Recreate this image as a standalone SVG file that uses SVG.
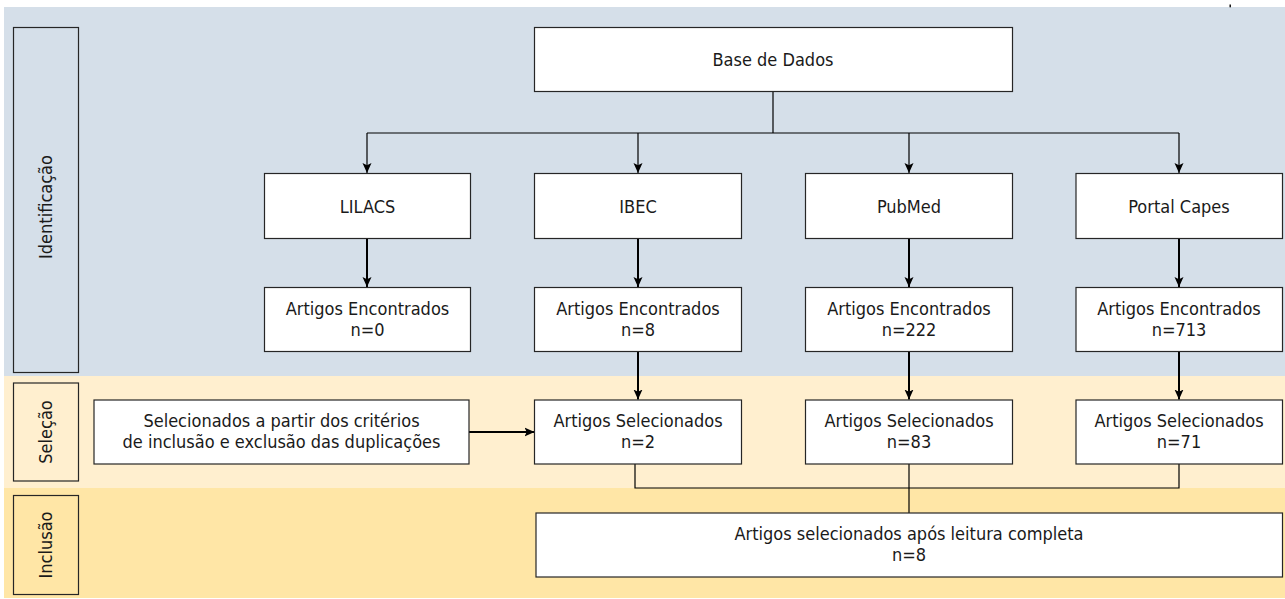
<svg xmlns="http://www.w3.org/2000/svg" width="1285" height="599" viewBox="0 0 1285 599">
<defs>
<marker id="arr" viewBox="0 0 10 10" refX="10" refY="5" markerWidth="10" markerHeight="10" markerUnits="userSpaceOnUse" orient="auto">
<path d="M0,0.5 L10,5 L0,9.5 L2.2,5 Z" fill="#000"/>
</marker>
<style>
.box{fill:#fff;stroke:#262626;stroke-width:1.2}
.lab{fill:none;stroke:#262626;stroke-width:1.2}
.t{font-family:"DejaVu Sans Condensed","DejaVu Sans",sans-serif;font-stretch:condensed;font-size:18px;fill:#1a1a1a;text-anchor:middle}
.thin{fill:none;stroke:#000;stroke-width:1.2}
.thick{fill:none;stroke:#000;stroke-width:2}
</style>
</defs>
<rect x="0" y="0" width="1285" height="599" fill="#fff"/>
<g id="bands">
<rect x="4" y="7" width="1281" height="369" fill="#D5DFE9"/>
<rect x="4" y="376" width="1281" height="112" fill="#FFEFCF"/>
<rect x="4" y="488" width="1281" height="110" fill="#FFE6A6"/>
<rect x="1229.5" y="4.5" width="1.4" height="2.8" fill="#000"/>
</g>
<g id="lane-identificacao">
<rect class="lab" x="13.5" y="27.5" width="65" height="345"/>
<text class="t" transform="translate(52,207) rotate(-90)" x="0" y="0">Identificação</text>
</g>
<g id="lane-selecao">
<rect class="lab" x="13.5" y="383" width="65" height="98"/>
<text class="t" transform="translate(52,432) rotate(-90)" x="0" y="0">Seleção</text>
</g>
<g id="lane-inclusao">
<rect class="lab" x="13.5" y="495.5" width="65" height="99"/>
<text class="t" transform="translate(52,545) rotate(-90)" x="0" y="0">Inclusão</text>
</g>
<g id="connectors">
<path class="thin" d="M773,91 V133"/>
<path class="thin" d="M367,133 H1179"/>
<path class="thin" d="M367,133 V173" marker-end="url(#arr)"/>
<path class="thin" d="M638,133 V173" marker-end="url(#arr)"/>
<path class="thin" d="M909,133 V173" marker-end="url(#arr)"/>
<path class="thin" d="M1179,133 V173" marker-end="url(#arr)"/>
<path class="thick" d="M367,238 V287" marker-end="url(#arr)"/>
<path class="thick" d="M638,238 V287" marker-end="url(#arr)"/>
<path class="thick" d="M909,238 V287" marker-end="url(#arr)"/>
<path class="thick" d="M1179,238 V287" marker-end="url(#arr)"/>
<path class="thick" d="M638,351 V399.5" marker-end="url(#arr)"/>
<path class="thick" d="M909,351 V399.5" marker-end="url(#arr)"/>
<path class="thick" d="M1179,351 V399.5" marker-end="url(#arr)"/>
<path class="thick" d="M469,432 H534.5" marker-end="url(#arr)"/>
<path class="thin" d="M635,464 V488 H1179 V464"/>
<path class="thin" d="M909,464 V513"/>
</g>
<g id="base-de-dados">
<rect class="box" x="534.5" y="27.5" width="478" height="64"/>
<text class="t" x="773" y="65.5">Base de Dados</text>
</g>
<g id="lilacs">
<rect class="box" x="264.5" y="173.5" width="206" height="65"/>
<text class="t" x="367.5" y="212.5">LILACS</text>
</g>
<g id="ibec">
<rect class="box" x="534.5" y="173.5" width="207" height="65"/>
<text class="t" x="638" y="212.5">IBEC</text>
</g>
<g id="pubmed">
<rect class="box" x="805.5" y="173.5" width="207" height="65"/>
<text class="t" x="909" y="212.5">PubMed</text>
</g>
<g id="portal-capes">
<rect class="box" x="1076" y="173.5" width="206.5" height="65"/>
<text class="t" x="1179" y="212.5">Portal Capes</text>
</g>
<g id="enc-lilacs">
<rect class="box" x="264.5" y="287.5" width="206" height="64"/>
<text class="t" x="367.5" y="314.5">Artigos Encontrados</text>
<text class="t" x="367.5" y="336">n=0</text>
</g>
<g id="enc-ibec">
<rect class="box" x="534.5" y="287.5" width="207" height="64"/>
<text class="t" x="638" y="314.5">Artigos Encontrados</text>
<text class="t" x="638" y="336">n=8</text>
</g>
<g id="enc-pubmed">
<rect class="box" x="805.5" y="287.5" width="207" height="64"/>
<text class="t" x="909" y="314.5">Artigos Encontrados</text>
<text class="t" x="909" y="336">n=222</text>
</g>
<g id="enc-capes">
<rect class="box" x="1076" y="287.5" width="206.5" height="64"/>
<text class="t" x="1179" y="314.5">Artigos Encontrados</text>
<text class="t" x="1179" y="336">n=713</text>
</g>
<g id="criterios">
<rect class="box" x="94" y="400" width="375" height="64"/>
<text class="t" x="281.5" y="426.7">Selecionados a partir dos critérios</text>
<text class="t" x="281.5" y="448.3">de inclusão e exclusão das duplicações</text>
</g>
<g id="sel-ibec">
<rect class="box" x="534.5" y="400" width="207" height="64"/>
<text class="t" x="638" y="426.7">Artigos Selecionados</text>
<text class="t" x="638" y="448.3">n=2</text>
</g>
<g id="sel-pubmed">
<rect class="box" x="805.5" y="400" width="207" height="64"/>
<text class="t" x="909" y="426.7">Artigos Selecionados</text>
<text class="t" x="909" y="448.3">n=83</text>
</g>
<g id="sel-capes">
<rect class="box" x="1076" y="400" width="206.5" height="64"/>
<text class="t" x="1179" y="426.7">Artigos Selecionados</text>
<text class="t" x="1179" y="448.3">n=71</text>
</g>
<g id="final">
<rect class="box" x="536" y="513" width="746.5" height="64"/>
<text class="t" x="909" y="539.5">Artigos selecionados após leitura completa</text>
<text class="t" x="909" y="561">n=8</text>
</g>
</svg>
